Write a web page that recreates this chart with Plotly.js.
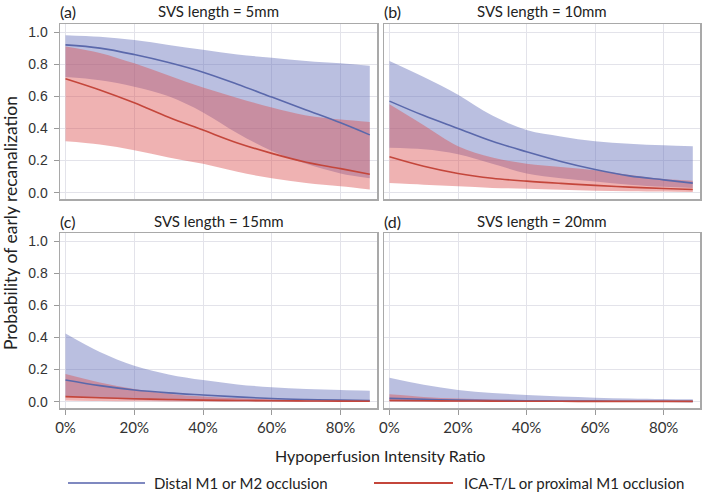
<!DOCTYPE html>
<html>
<head>
<meta charset="utf-8">
<script src="https://cdn.plot.ly/plotly-3.0.1.min.js"></script>
<style>html,body{margin:0;padding:0;background:#fff;}#chart{width:705px;height:494px;}</style>
</head>
<body>
<div id="chart"></div>
<script>
// ---------- DATA ----------
const hir = [0, 0.1, 0.2, 0.3, 0.4, 0.5, 0.6, 0.7, 0.8, 0.885];

const panelTitles = ["SVS length = 5mm", "SVS length = 10mm", "SVS length = 15mm", "SVS length = 20mm"];
const panelLetters = ["(a)", "(b)", "(c)", "(d)"];
const seriesNames = ["Distal M1 or M2 occlusion", "ICA-T/L or proximal M1 occlusion"];

// SVS = 5mm
const a_blueMid = [0.92, 0.90, 0.86, 0.81, 0.75, 0.675, 0.595, 0.515, 0.435, 0.36];
const a_blueUp  = [0.98, 0.97, 0.95, 0.92, 0.89, 0.86, 0.84, 0.82, 0.805, 0.79];
const a_blueLo  = [0.72, 0.70, 0.66, 0.60, 0.50, 0.37, 0.26, 0.18, 0.12, 0.09];
const a_redMid  = [0.71, 0.64, 0.56, 0.47, 0.39, 0.31, 0.245, 0.19, 0.15, 0.115];
const a_redUp   = [0.91, 0.87, 0.805, 0.73, 0.655, 0.59, 0.53, 0.48, 0.455, 0.44];
const a_redLo   = [0.32, 0.30, 0.265, 0.22, 0.18, 0.13, 0.09, 0.06, 0.04, 0.02];

// SVS = 10mm
const b_blueMid = [0.57, 0.48, 0.40, 0.32, 0.255, 0.195, 0.145, 0.105, 0.08, 0.06];
const b_blueUp  = [0.82, 0.72, 0.61, 0.48, 0.39, 0.35, 0.32, 0.305, 0.295, 0.29];
const b_blueLo  = [0.28, 0.27, 0.24, 0.18, 0.12, 0.09, 0.07, 0.05, 0.037, 0.03];
const b_redMid  = [0.224, 0.165, 0.12, 0.09, 0.072, 0.058, 0.046, 0.035, 0.026, 0.02];
const b_redUp   = [0.55, 0.42, 0.29, 0.22, 0.18, 0.16, 0.14, 0.11, 0.085, 0.075];
const b_redLo   = [0.06, 0.05, 0.04, 0.03, 0.025, 0.018, 0.012, 0.009, 0.007, 0.005];

// SVS = 15mm
const c_blueMid = [0.135, 0.10, 0.073, 0.055, 0.042, 0.03, 0.02, 0.014, 0.01, 0.008];
const c_blueUp  = [0.425, 0.31, 0.224, 0.17, 0.135, 0.108, 0.09, 0.08, 0.073, 0.068];
const c_blueLo  = [0.035, 0.022, 0.013, 0.008, 0.005, 0.003, 0.002, 0.0015, 0.001, 0.001];
const c_redMid  = [0.032, 0.025, 0.019, 0.014, 0.01, 0.008, 0.006, 0.005, 0.004, 0.003];
const c_redUp   = [0.172, 0.12, 0.08, 0.05, 0.032, 0.022, 0.015, 0.011, 0.008, 0.007];
const c_redLo   = [0.008, 0.005, 0.003, 0.002, 0.0015, 0.001, 0.001, 0.0005, 0.0005, 0.0005];

// SVS = 20mm
const d_blueMid = [0.021, 0.015, 0.01, 0.008, 0.006, 0.005, 0.004, 0.003, 0.003, 0.002];
const d_blueUp  = [0.149, 0.105, 0.073, 0.055, 0.042, 0.032, 0.025, 0.02, 0.017, 0.015];
const d_blueLo  = [0.003, 0.002, 0.001, 0.001, 0.001, 0.0005, 0.0005, 0.0005, 0.0005, 0.0005];
const d_redMid  = [0.008, 0.006, 0.005, 0.004, 0.003, 0.003, 0.002, 0.002, 0.002, 0.002];
const d_redUp   = [0.046, 0.03, 0.02, 0.014, 0.01, 0.008, 0.006, 0.005, 0.005, 0.004];
const d_redLo   = [0.001, 0.001, 0.0005, 0.0005, 0.0005, 0.0005, 0.0005, 0.0005, 0.0005, 0.0005];

const xTickVals = [0, 0.2, 0.4, 0.6, 0.8];
const xTickText = ["0%", "20%", "40%", "60%", "80%"];
const yTickVals = [0, 0.2, 0.4, 0.6, 0.8, 1.0];
const yTickText = ["0.0", "0.2", "0.4", "0.6", "0.8", "1.0"];

// ---------- STYLE ----------
const W = 705, H = 494;
const BLUE_LINE = "#5a68ab", RED_LINE = "#c4463b";
const BLUE_FILL = "rgba(90,102,180,0.42)", RED_FILL = "rgba(219,79,79,0.44)";
const FRAME = "#a9a9a9", GRID = "#e3e3ea";
const TXT = "Lato, 'Open Sans', sans-serif";
const px = v => v / W, py = v => 1 - v / H;

const panels = [
  {mid:[a_blueMid,a_redMid], up:[a_blueUp,a_redUp], lo:[a_blueLo,a_redLo], xa:"x",  ya:"y"},
  {mid:[b_blueMid,b_redMid], up:[b_blueUp,b_redUp], lo:[b_blueLo,b_redLo], xa:"x2", ya:"y2"},
  {mid:[c_blueMid,c_redMid], up:[c_blueUp,c_redUp], lo:[c_blueLo,c_redLo], xa:"x3", ya:"y3"},
  {mid:[d_blueMid,d_redMid], up:[d_blueUp,d_redUp], lo:[d_blueLo,d_redLo], xa:"x4", ya:"y4"}
];

const lineCols = [BLUE_LINE, RED_LINE];
const fillCols = [BLUE_FILL, RED_FILL];
const traces = [];
panels.forEach(p => {
  for (let s = 0; s < 2; s++) {
    traces.push({x: hir, y: p.lo[s], xaxis: p.xa, yaxis: p.ya, mode: "lines",
      line: {width: 0, shape: "spline", smoothing: 1}, showlegend: false, hoverinfo: "skip"});
    traces.push({x: hir, y: p.up[s], xaxis: p.xa, yaxis: p.ya, mode: "lines", fill: "tonexty",
      fillcolor: fillCols[s], line: {width: 0, shape: "spline", smoothing: 1}, showlegend: false, hoverinfo: "skip"});
  }
  for (let s = 0; s < 2; s++) {
    traces.push({x: hir, y: p.mid[s], xaxis: p.xa, yaxis: p.ya, mode: "lines", name: seriesNames[s],
      line: {color: lineCols[s], width: 1.6, shape: "spline", smoothing: 1}, showlegend: false});
  }
});

const boxes = [
  {l: 60, r: 377, t: 24, b: 199},
  {l: 384, r: 700, t: 24, b: 199},
  {l: 60, r: 377, t: 233, b: 408},
  {l: 384, r: 700, t: 233, b: 408}
];

function xAxis(i) {
  const bottom = i >= 2;
  return {
    domain: [px(boxes[i].l), px(boxes[i].r)], range: [-0.016, 0.906],
    anchor: ["y","y2","y3","y4"][i],
    tickvals: xTickVals, ticktext: xTickText, showticklabels: bottom,
    ticks: bottom ? "outside" : "", ticklen: 5, tickcolor: "#9a9a9a", ticklabelstandoff: 0,
    tickfont: {family: TXT, size: 15, color: "#333"},
    showgrid: true, gridcolor: GRID, gridwidth: 1, zeroline: false,
    showline: true, mirror: true, linecolor: FRAME, linewidth: 1.5
  };
}
function yAxis(i) {
  const left = i % 2 === 0;
  return {
    domain: [py(boxes[i].b), py(boxes[i].t)], range: [-0.039, 1.05],
    anchor: ["x","x2","x3","x4"][i],
    tickvals: yTickVals, ticktext: yTickText, showticklabels: left,
    ticks: left ? "outside" : "", ticklen: 5, tickcolor: "#9a9a9a", ticklabelstandoff: 3,
    tickfont: {family: "'Liberation Sans', Arial, sans-serif", size: 14, color: "#333"},
    showgrid: true, gridcolor: GRID, gridwidth: 1, zeroline: false,
    showline: true, mirror: true, linecolor: FRAME, linewidth: 1.5
  };
}

const annotations = [];
boxes.forEach((b, i) => {
  const ty = i < 2 ? 11 : 221;
  annotations.push({text: panelLetters[i], xref: "paper", yref: "paper", x: px(b.l - 2), y: py(ty),
    xanchor: "left", yanchor: "middle", showarrow: false, font: {family: TXT, size: 16, color: "#222"}});
  annotations.push({text: panelTitles[i], xref: "paper", yref: "paper", x: px((b.l + b.r) / 2), y: py(ty),
    xanchor: "center", yanchor: "middle", showarrow: false, font: {family: TXT, size: 15, color: "#222"}});
});
annotations.push({text: "Probability of early recanalization", xref: "paper", yref: "paper",
  x: px(10), y: py(223), textangle: -90, xanchor: "center", yanchor: "middle", showarrow: false,
  font: {family: TXT, size: 17.5, color: "#222"}});
annotations.push({text: "Hypoperfusion Intensity Ratio", xref: "paper", yref: "paper",
  x: px(380), y: py(455), xanchor: "center", yanchor: "middle", showarrow: false,
  font: {family: TXT, size: 16, color: "#222"}});
annotations.push({text: seriesNames[0], xref: "paper", yref: "paper", x: px(152), y: py(483),
  xanchor: "left", yanchor: "middle", showarrow: false, font: {family: TXT, size: 15, color: "#222"}});
annotations.push({text: seriesNames[1], xref: "paper", yref: "paper", x: px(462), y: py(483),
  xanchor: "left", yanchor: "middle", showarrow: false, font: {family: TXT, size: 15, color: "#222"}});

const shapes = [
  {type: "line", xref: "paper", yref: "paper", x0: px(68), x1: px(145), y0: py(483), y1: py(483),
   line: {color: "#7f89c0", width: 2}},
  {type: "line", xref: "paper", yref: "paper", x0: px(374), x1: px(453), y0: py(483), y1: py(483),
   line: {color: RED_LINE, width: 2}}
];

const layout = {
  width: W, height: H, margin: {l: 0, r: 0, t: 0, b: 0},
  paper_bgcolor: "#fff", plot_bgcolor: "#fff", showlegend: false,
  xaxis: xAxis(0), xaxis2: xAxis(1), xaxis3: xAxis(2), xaxis4: xAxis(3),
  yaxis: yAxis(0), yaxis2: yAxis(1), yaxis3: yAxis(2), yaxis4: yAxis(3),
  annotations: annotations, shapes: shapes
};

Plotly.newPlot("chart", traces, layout, {displayModeBar: false, staticPlot: true});
</script>
</body>
</html>
